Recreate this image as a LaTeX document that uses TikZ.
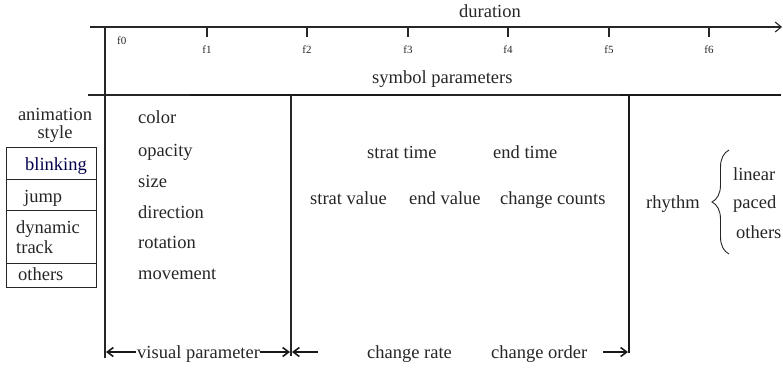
\documentclass[tikz,border=0pt]{standalone}
\usepackage{fontspec}
\setmainfont{Liberation Serif}
\usetikzlibrary{arrows.meta,decorations.pathreplacing}
\begin{document}
\begin{tikzpicture}[x=1pt,y=-1pt,
  lbl/.style={anchor=base west,inner sep=0pt,font=\fontsize{18.5}{20}\selectfont,text=black!85},
  flbl/.style={anchor=base,inner sep=0pt,font=\fontsize{11}{12}\selectfont,text=black!85},
  thin line/.style={line width=1.1pt,draw=black!85},
  thick line/.style={line width=2.6pt,draw=black!90},
  dimarrow/.style={line width=1.6pt,draw=black!90,-{Straight Barb[length=6pt,width=9pt,line width=1.6pt]}},
  cell/.style={draw=black!85,line width=1pt}]
\useasboundingbox (0,0) rectangle (783,368);
% time axis
\coordinate (axs) at (90,27);
\coordinate (axe) at (782,27);
\draw[thin line,-{Straight Barb[length=6pt,width=10pt]}] (axs) -- (axe);
\node[lbl] (dur) at (459,17) {duration};
\foreach \i/\x in {1/207,2/307,3/408,4/508,5/609,6/709}{
  \coordinate (t\i) at (\x,27);
  \coordinate (tb\i) at (\x,37);
  \draw[thin line] (t\i) -- (tb\i);
  \node[flbl] (f\i) at (\x,53) {f\i};
}
\node[flbl,anchor=base west] (f0) at (117,44) {f0};
% main vertical
\coordinate (v0t) at (105,27);
\coordinate (v0b) at (105,358);
\draw[thin line] (v0t) -- (v0b);
% symbol parameter line
\node[lbl] (sym) at (372,83) {symbol parameters};
\coordinate (s0) at (88,95);
\coordinate (s1) at (190,95);
\coordinate (s2) at (440,95);
\coordinate (s3) at (620,95);
\coordinate (s4) at (781,95);
\draw[thin line] (s0) -- (s1);
\draw[thick line] (s1) -- (s2);
\draw[thin line] (s2) -- (s3);
\draw[thick line] (s3) -- (s4);
% dividers
\coordinate (v1t) at (291,95);
\coordinate (v1b) at (291,356);
\draw[thin line] (v1t) -- (v1b);
\coordinate (v2t) at (629,94);
\coordinate (v2b) at (629,353);
\draw[thick line] (v2t) -- (v2b);
% animation style
\node[lbl,anchor=base] (anim) at (55,120) {animation};
\node[lbl,anchor=base] (style) at (55,138) {style};
\draw[cell] (6,147) rectangle (96,287);
\draw[cell] (6,179) -- (96,179);
\draw[cell] (6,210) -- (96,210);
\draw[cell] (6,263) -- (96,263);
\node[lbl,text=blue!30!black] (blink) at (25,170) {blinking};
\node[lbl] (jump) at (24,202) {jump};
\node[lbl] (dyn) at (16,233) {dynamic};
\node[lbl] (track) at (16,253) {track};
\node[lbl] (oth1) at (18,280) {others};
% visual parameters list
\node[lbl] (color) at (138,123) {color};
\node[lbl] (opac) at (138,156) {opacity};
\node[lbl] (size) at (138,187) {size};
\node[lbl] (dir) at (138,218) {direction};
\node[lbl] (rot) at (138,248) {rotation};
\node[lbl] (mov) at (138,279) {movement};
% change parameters
\node[lbl] (st) at (367,158) {strat time};
\node[lbl] (et) at (493,158) {end time};
\node[lbl] (sv) at (310,204) {strat value};
\node[lbl] (ev) at (409,204) {end value};
\node[lbl] (cc) at (500,204) {change counts};
% rhythm
\node[lbl] (rhy) at (646,208) {rhythm};
\coordinate (bra) at (729,254);
\coordinate (brb) at (729,150);
\draw[line width=0.9pt,draw=black!85,decorate,decoration={brace,amplitude=17pt,aspect=0.5}] (bra) -- (brb);
\node[lbl] (lin) at (733,180) {linear};
\node[lbl] (pac) at (733,208) {paced};
\node[lbl] (oth2) at (736,238) {others};
% bottom dimension arrows
\node[lbl] (vp) at (137,358) {visual parameter};
\coordinate (a1) at (106,352);
\coordinate (a2) at (290,352);
\coordinate (a3) at (292,352);
\coordinate (a4) at (318,352);
\coordinate (a5) at (603,352);
\coordinate (a6) at (628,352);
\draw[dimarrow] (vp.west |- a1) ++(-1,0) -- (a1);
\draw[dimarrow] (vp.east |- a2) -- (a2);
\draw[dimarrow] (a4) -- (a3);
\node[lbl] (cr) at (367,358) {change rate};
\node[lbl] (co) at (491,358) {change order};
\draw[dimarrow] (a5) -- (a6);
\end{tikzpicture}
\end{document}
